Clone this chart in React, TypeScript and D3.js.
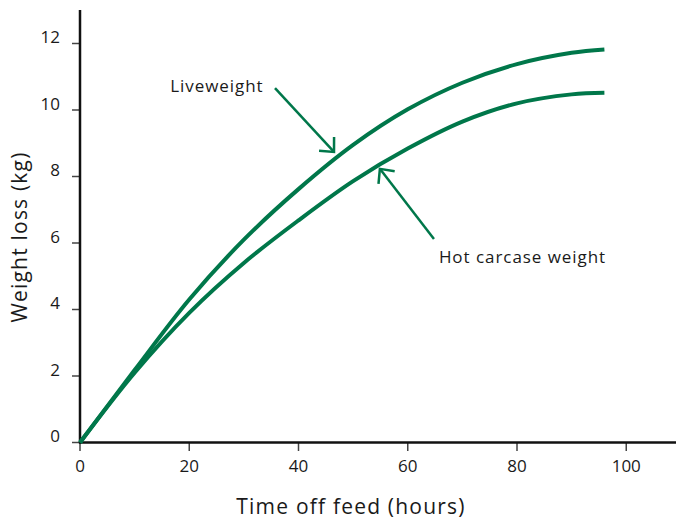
import React from "react";
import * as d3 from "d3";

const hours = [0, 10, 20, 30, 40, 50, 60, 70, 80, 90, 96];
const liveweight = [0, 2.18, 4.3, 6.1, 7.62, 8.95, 10.02, 10.82, 11.38, 11.72, 11.82];
const hotCarcase = [0, 2.1, 3.9, 5.4, 6.68, 7.86, 8.84, 9.65, 10.2, 10.47, 10.52];
const xTicks = [0, 20, 40, 60, 80, 100];
const yTicks = [0, 2, 4, 6, 8, 10, 12];

const annotations = [
  { label: "Liveweight", lx: 16.5, ly: 10.54, from: [35.7, 10.66], to: [46.5, 8.74] },
  { label: "Hot carcase weight", lx: 65.7, ly: 5.4, from: [64.8, 6.12], to: [54.9, 8.23] },
];

const GREEN = "#00774A";
const FONT = "'Open Sans', sans-serif";

export default function App() {
  const W = 676, H = 520;
  const x = d3.scaleLinear().domain([0, 100]).range([80, 626.25]);
  const y = d3.scaleLinear().domain([0, 12]).range([442.5, 43.5]);
  const line = d3
    .line<[number, number]>()
    .x((d) => x(d[0]))
    .y((d) => y(d[1]))
    .curve(d3.curveCatmullRom.alpha(0.5));
  const lwPts = hours.map((h, i) => [h, liveweight[i]] as [number, number]);
  const hcPts = hours.map((h, i) => [h, hotCarcase[i]] as [number, number]);

  const arrowHead = (fx: number, fy: number, tx: number, ty: number) => {
    const ang = Math.atan2(fy - ty, fx - tx);
    const L = 15, spread = (43 * Math.PI) / 180;
    const a1 = [tx + L * Math.cos(ang - spread), ty + L * Math.sin(ang - spread)];
    const a2 = [tx + L * Math.cos(ang + spread), ty + L * Math.sin(ang + spread)];
    return `M${a1[0]},${a1[1]}L${tx},${ty}L${a2[0]},${a2[1]}`;
  };

  return (
    <svg width={W} height={H} style={{ position: "absolute", left: 0, top: 0 }} fontFamily={FONT}>
      <rect width={W} height={H} fill="#fff" />
      {yTicks.map((t) => (
        <g key={"y" + t}>
          <line x1={72} x2={80} y1={y(t)} y2={y(t)} stroke="#444" strokeWidth={1.5} />
          <text x={60} y={y(t) - 5} fontSize={17} textAnchor="end" dominantBaseline="middle" fill="#1a1a1a">
            {t}
          </text>
        </g>
      ))}
      {xTicks.map((t) => (
        <g key={"x" + t}>
          <line x1={x(t)} x2={x(t)} y1={442} y2={451} stroke="#444" strokeWidth={1.5} />
          <text x={x(t)} y={467} fontSize={17} textAnchor="middle" dominantBaseline="middle" fill="#1a1a1a">
            {t}
          </text>
        </g>
      ))}
      <line x1={80} x2={80} y1={10} y2={443.5} stroke="#111" strokeWidth={2.5} />
      <line x1={79} x2={676} y1={442.5} y2={442.5} stroke="#111" strokeWidth={2.5} />
      <path d={line(lwPts) || ""} fill="none" stroke={GREEN} strokeWidth={4} />
      <path d={line(hcPts) || ""} fill="none" stroke={GREEN} strokeWidth={4} />
      {annotations.map((a) => {
        const fx = x(a.from[0]), fy = y(a.from[1]), tx = x(a.to[0]), ty = y(a.to[1]);
        return (
          <g key={a.label}>
            <text x={x(a.lx)} y={y(a.ly)} fontSize={17} letterSpacing={0.95} fill="#1a1a1a">
              {a.label}
            </text>
            <line x1={fx} y1={fy} x2={tx} y2={ty} stroke={GREEN} strokeWidth={2.5} />
            <path d={arrowHead(fx, fy, tx, ty)} fill="none" stroke={GREEN} strokeWidth={2.5} />
          </g>
        );
      })}
      <text x={351} y={514} fontSize={21} letterSpacing={1.2} textAnchor="middle" fill="#1a1a1a">
        Time off feed (hours)
      </text>
      <text
        transform={`translate(27,237) rotate(-90)`}
        fontSize={21}
        letterSpacing={1.2}
        textAnchor="middle"
        fill="#1a1a1a"
      >
        Weight loss (kg)
      </text>
    </svg>
  );
}
